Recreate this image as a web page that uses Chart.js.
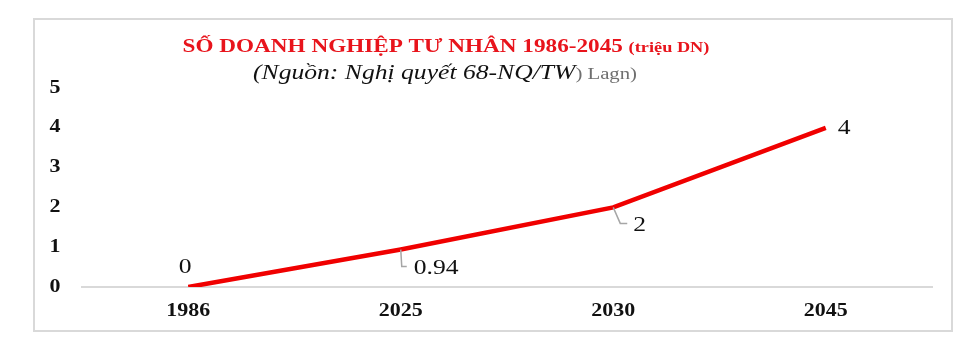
<!DOCTYPE html>
<html>
<head>
<meta charset="utf-8">
<script src="https://cdn.jsdelivr.net/npm/chart.js@4/dist/chart.umd.min.js"></script>
<style>
    html, body { margin: 0; padding: 0; background: #ffffff; }
    #wrap { position: relative; width: 979px; height: 360px; }
</style>
</head>
<body>
<div id="wrap"><canvas id="lineChart" width="979" height="360"></canvas></div>
<script>
//------------------------------------------------------------
const years = ['1986', '2025', '2030', '2045'];
const firmCounts = [0, 0.94, 2, 4];
const titleMain = 'SỐ DOANH NGHIỆP TƯ NHÂN 1986-2045';
const titleUnit = '(triệu DN)';
const sourceText = '(Nguồn: Nghị quyết 68-NQ/TW';
const sourceTail = ') Lagn)';

// the original picture is stretched sideways, so all text is too
const STRETCH = 1.22;
const SERIF = '"Liberation Serif"';

// label placement per point
const labelPlacement = [
    { dx: -3, dy: -20, align: 'center', leader: null },
    { dx: 13, dy: 19, align: 'left', leader: [[1, 17], [6, 17]] },
    { dx: 20, dy: 18, align: 'left', leader: [[7, 16], [14, 16]] },
    { dx: 12, dy: 1, align: 'left', leader: null },
];

//------------------------------------------------------------
function textWidth(ctx, text, font) {
    ctx.font = font;
    return ctx.measureText(text).width * STRETCH;
}

//------------------------------------------------------------
function drawText(ctx, text, x, y, font, color, align) {
    ctx.save();
    ctx.font = font;
    ctx.fillStyle = color;
    ctx.textAlign = align;
    ctx.translate(x, y);
    ctx.scale(STRETCH, 1);
    ctx.fillText(text, 0, 0);
    ctx.restore();
}

//------------------------------------------------------------
const framePlugin = {
    id: 'frame',
    beforeDraw(chart) {
        const ctx = chart.ctx;
        ctx.save();
        ctx.strokeStyle = '#d9d9d9';
        ctx.lineWidth = 2;
        ctx.strokeRect(34, 19, 918, 312);
        ctx.restore();
    },
    afterDraw(chart) {
        const ctx = chart.ctx;
        ctx.save();
        ctx.textBaseline = 'alphabetic';

        // title line
        const f1 = `bold 19px ${SERIF}`;
        const f2 = `bold 15px ${SERIF}`;
        const w1 = textWidth(ctx, titleMain + ' ', f1);
        const w2 = textWidth(ctx, titleUnit, f2);
        let x = 446 - (w1 + w2) / 2;
        drawText(ctx, titleMain + ' ', x, 52, f1, '#e8141c', 'left');
        drawText(ctx, titleUnit, x + w1, 52, f2, '#e8141c', 'left');

        // source line
        const f3 = `italic 21px ${SERIF}`;
        const f4 = `17px ${SERIF}`;
        const w3 = textWidth(ctx, sourceText, f3);
        const w4 = textWidth(ctx, sourceTail, f4);
        x = 445 - (w3 + w4) / 2;
        drawText(ctx, sourceText, x, 79, f3, '#111111', 'left');
        drawText(ctx, sourceTail, x + w3, 79, f4, '#6f6f6f', 'left');
        ctx.restore();
    }
};

//------------------------------------------------------------
const tickLabelPlugin = {
    id: 'tickLabels',
    afterDraw(chart) {
        const ctx = chart.ctx;
        const font = `bold 18px ${SERIF}`;
        ctx.save();
        ctx.textBaseline = 'middle';
        const xs = chart.scales.x;
        xs.ticks.forEach((t, i) => {
            drawText(ctx, xs.getLabelForValue(t.value), xs.getPixelForTick(i), 311, font, '#111111', 'center');
        });
        const ys = chart.scales.y;
        ys.ticks.forEach((t, i) => {
            drawText(ctx, String(t.value), 55, ys.getPixelForTick(i), font, '#111111', 'center');
        });
        ctx.restore();
    }
};

//------------------------------------------------------------
const valueLabelPlugin = {
    id: 'valueLabels',
    afterDatasetsDraw(chart) {
        const ctx = chart.ctx;
        const meta = chart.getDatasetMeta(0);
        const font = `21px ${SERIF}`;
        ctx.save();
        ctx.textBaseline = 'middle';
        meta.data.forEach((pt, i) => {
            const p = labelPlacement[i];
            if (p.leader) {
                ctx.strokeStyle = '#a6a6a6';
                ctx.lineWidth = 1.5;
                ctx.beginPath();
                ctx.moveTo(pt.x, pt.y);
                p.leader.forEach(([lx, ly]) => ctx.lineTo(pt.x + lx, pt.y + ly));
                ctx.stroke();
            }
            drawText(ctx, String(firmCounts[i]), pt.x + p.dx, pt.y + p.dy, font, '#111111', p.align);
        });
        ctx.restore();
    }
};

//------------------------------------------------------------
const context = document.getElementById('lineChart').getContext('2d');

new Chart(context, {
    type: 'line',
    data: {
        labels: years,
        datasets: [
            {
                label: 'Số doanh nghiệp',
                data: firmCounts,
                borderColor: '#f00000',
                backgroundColor: '#f00000',
                borderWidth: 4.5,
                pointRadius: 0,
                tension: 0,
            },
        ],
    },
    options: {
        responsive: false,
        animation: false,
        layout: { padding: { top: 88, right: 47, left: 0, bottom: 0 } },
        plugins: {
            legend: { display: false },
            tooltip: { enabled: false },
        },
        scales: {
            x: {
                offset: true,
                grid: { display: false, drawTicks: false },
                border: { display: true, color: '#d9d9d9', width: 2 },
                ticks: { display: false },
                afterFit(scale) { scale.height = 73; },
            },
            y: {
                min: 0,
                max: 5,
                grid: { display: false, drawTicks: false },
                border: { display: false },
                ticks: { display: false, stepSize: 1 },
                afterFit(scale) { scale.width = 82; },
            },
        },
    },
    plugins: [framePlugin, tickLabelPlugin, valueLabelPlugin],
});
</script>
</body>
</html>
